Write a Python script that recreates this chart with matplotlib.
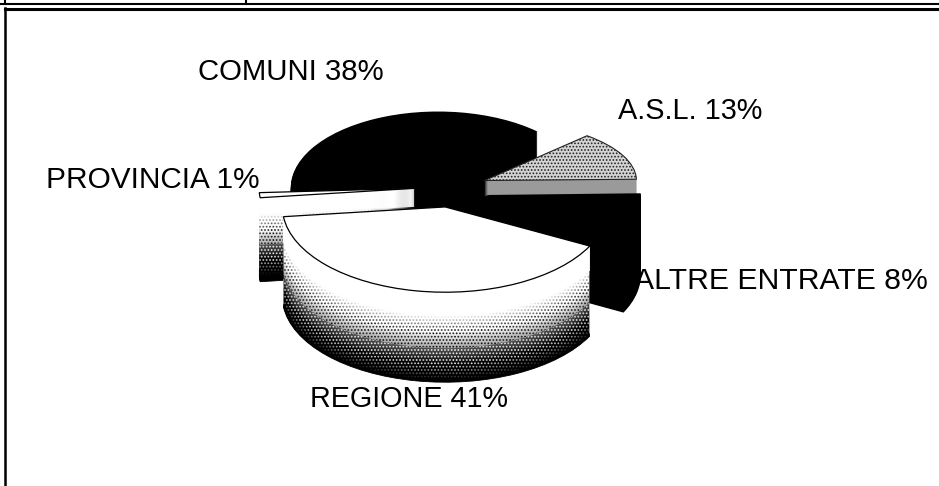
import matplotlib
matplotlib.use('Agg')
import matplotlib.pyplot as plt
from matplotlib.lines import Line2D
from matplotlib.transforms import Affine2D

W, H = 939, 486
plt.rcParams['font.family'] = ['Liberation Sans', 'DejaVu Sans']
plt.rcParams['hatch.linewidth'] = 0.8

# data
labels = ['COMUNI', 'A.S.L.', 'ALTRE ENTRATE', 'REGIONE', 'PROVINCIA']
shares = [38, 13, 8, 41, 1]

# look of the fake 3d pie
explode = [0.03, 0.28, 0.27, 0.21, 0.2]
cx, cy = 445, 190      # pie centre in pixels
rx, ry = 155, 82       # ellipse radii in pixels
start = 183
depths = [80, 15, 80, 90, 84]
white_part = [0, 0, 0, 0.26, 0.2]
draw_order = [0, 1, 2, 4, 3]
# per slice tweak about its own tip: x scale, y scale, x shift, y shift in pixels
tweak = [(0.95, 0.93, -5, 0), (0.98, 0.74, 0, 0), (1.0, 1.0, 0, 0), (1.05, 1.04, 6, 0), (1.0, 1.0, 0, -3)]


def side_grey(i, frac):
    # white at the top going to black at the bottom
    return max(0.0, min(1.0, 1 - (frac - white_part[i]) / 0.73))


def stipple(g):
    # face and dot colour so that the mix comes out near g
    if g > 0.75:
        return 1.0, (g - 0.75) / 0.25
    if g > 0.5:
        return g / 0.75, 0.0
    if g > 0.25:
        return (g - 0.25) / 0.75, 1.0
    return 0.0, g / 0.25


def draw_slice(ax, i, dz, face, edge='none', lw=0.0, hatch=None):
    colours = ['none'] * len(shares)
    colours[i] = face
    wedges, _ = ax.pie(shares, explode=explode, colors=colours, startangle=start,
                       counterclock=False, center=(0, 0), radius=1,
                       normalize=True, wedgeprops={'linewidth': lw, 'edgecolor': edge})
    for j, w in enumerate(wedges):
        if j != i:
            w.remove()
    w = wedges[i]
    tx, ty = w.center
    sx, sy, dx, dy = tweak[i]
    w.set_transform(Affine2D().translate(-tx, -ty).scale(sx, sy)
                    .translate(tx + dx / rx, ty - (dz + dy) / ry) + ax.transData)
    if hatch:
        w.set_hatch(hatch)
    return w


fig = plt.figure(figsize=(W / 100, H / 100), dpi=100, facecolor='white')
ax = fig.add_axes([0, 0, 1, 1])

for i in draw_order:
    for dz in range(depths[i], 0, -1):
        if i in (0, 2):
            draw_slice(ax, i, dz, 'black')
        elif i == 1:
            draw_slice(ax, i, dz, '#9a9a9a')
        else:
            g = side_grey(i, dz / depths[i])
            if 0.02 < g < 0.98:
                face, dot = stipple(g)
                w = draw_slice(ax, i, dz, (face, face, face), hatch='.....')
                w.set_edgecolor((dot, dot, dot))
                w.set_linewidth(0)
            else:
                draw_slice(ax, i, dz, (g, g, g), edge=(g, g, g), lw=0.6)
    if i == 1:
        draw_slice(ax, i, 0, '#d4d4d4', edge='#222222', lw=0.8, hatch='.....')
    elif i in (0, 2):
        draw_slice(ax, i, 0, 'black')
    else:
        draw_slice(ax, i, 0, 'white', edge='black', lw=0.9)

ax.set_aspect('auto')
ax.set_xlim(-cx / rx, (W - cx) / rx)
ax.set_ylim((cy - H) / ry, cy / ry)
ax.axis('off')


def px(x, y):
    return x / W, 1 - y / H


# labels
label_pos = [(291, 72), (690, 111), (781, 281), (409, 399), (153, 180)]
label_size = [21.2, 20.8, 21.7, 20.7, 21.4]
for name, share, (x, y), fs in zip(labels, shares, label_pos, label_size):
    fig.text(*px(x, y), f'{name} {share}%', fontsize=fs, ha='center', va='center', color='black')

# frame lines of the scan
for xs, ys, lw in [((0, W), (4, 4), 1.5), ((5, W), (9, 9), 2.2), ((5, 5), (8, H), 1.8),
                   ((5, 5), (0, 4), 1.5), ((246, 246), (0, 4), 1.5)]:
    a, b = px(xs[0], ys[0]), px(xs[1], ys[1])
    fig.add_artist(Line2D([a[0], b[0]], [a[1], b[1]], color='black', lw=lw))

fig.savefig('out.png', dpi=100)
